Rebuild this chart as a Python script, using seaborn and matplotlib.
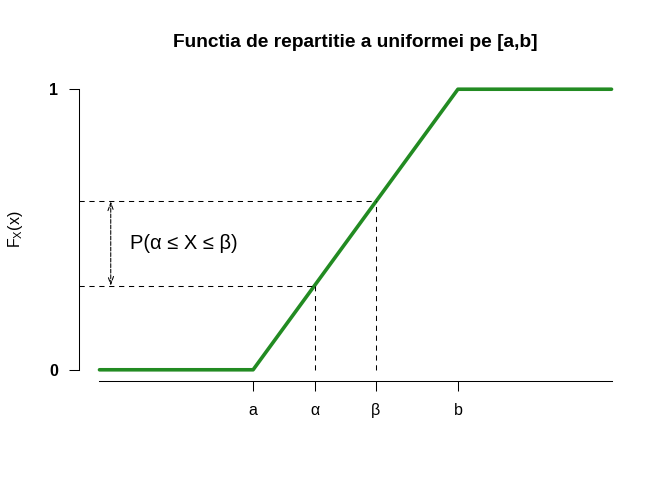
import matplotlib
matplotlib.use("Agg")
import matplotlib.pyplot as plt
import seaborn as sns

sns.set_style("white")
plt.rcParams['font.family'] = ['Liberation Sans', 'DejaVu Sans']
plt.rcParams['mathtext.fontset'] = 'custom'
plt.rcParams['mathtext.rm'] = 'Liberation Sans'
plt.rcParams['mathtext.it'] = 'Liberation Sans'
plt.rcParams['text.color'] = 'black'
plt.rcParams['axes.labelcolor'] = 'black'
plt.rcParams['xtick.color'] = 'black'
plt.rcParams['ytick.color'] = 'black'

# data
x_knots = [-1, 2, 6, 9]
F_vals = [0, 0, 1, 1]
a, b = 2, 6
alpha, beta = 3.2, 4.4
F_alpha, F_beta = 0.3, 0.6
xtick_pos = [a, alpha, beta, b]
xtick_labels = ['a', 'α', 'β', 'b']
ytick_pos = [0, 1]
ytick_labels = ['0', '1']
arrow_x = -0.78
text_x, text_y = 0.65, 0.45

fig = plt.figure(figsize=(6.72, 4.8), dpi=100)
ax = fig.add_axes([79/672, (480-381)/480, 553/672, 303/480])

sns.lineplot(x=x_knots, y=F_vals, color='#228B22', lw=2.6, ax=ax, sort=False)

dash = (0, (5, 4.5))
ax.plot([-1.4, alpha], [F_alpha, F_alpha], color='black', lw=0.75, ls=dash)
ax.plot([-1.4, beta], [F_beta, F_beta], color='black', lw=0.75, ls=dash)
ax.plot([alpha, alpha], [0, F_alpha], color='black', lw=0.75, ls=dash)
ax.plot([beta, beta], [0, F_beta], color='black', lw=0.75, ls=dash)
ax.annotate('', xy=(arrow_x, F_alpha), xytext=(arrow_x, F_beta),
            arrowprops=dict(arrowstyle='<->,head_length=0.55,head_width=0.2',
                            color='black', lw=0.75, ls='--',
                            shrinkA=0, shrinkB=0))
ax.text(text_x, text_y, 'P(α ≤ X ≤ β)', ha='center', va='center',
        fontsize=14.5, color='black')

ax.set_xlim(-1.4, 9.4)
ax.set_ylim(-0.04, 1.04)
ax.set_xticks(xtick_pos)
ax.set_xticklabels(xtick_labels, fontsize=11.5)
ax.set_yticks(ytick_pos)
ax.set_yticklabels(ytick_labels, fontsize=11.5, fontweight='bold')
ax.tick_params(axis='both', direction='out', length=7, width=0.75, color='black',
               labelcolor='black', left=True, bottom=True)
ax.tick_params(axis='x', pad=9)
ax.tick_params(axis='y', pad=8)

for s in ['top', 'right']:
    ax.spines[s].set_visible(False)
ax.spines['left'].set_bounds(0, 1)
ax.spines['bottom'].set_bounds(-1, 9)
for s in ['left', 'bottom']:
    ax.spines[s].set_color('black')
    ax.spines[s].set_linewidth(0.75)

ax.set_title('Functia de repartitie a uniformei pe [a,b]', fontsize=13.8,
             fontweight='bold', pad=22, color='black')
ax.set_ylabel(r'$\mathregular{F_X(x)}$', fontsize=11.5, color='black')
ax.yaxis.set_label_coords(-0.098, 0.5)

fig.savefig('out.png', dpi=100)
